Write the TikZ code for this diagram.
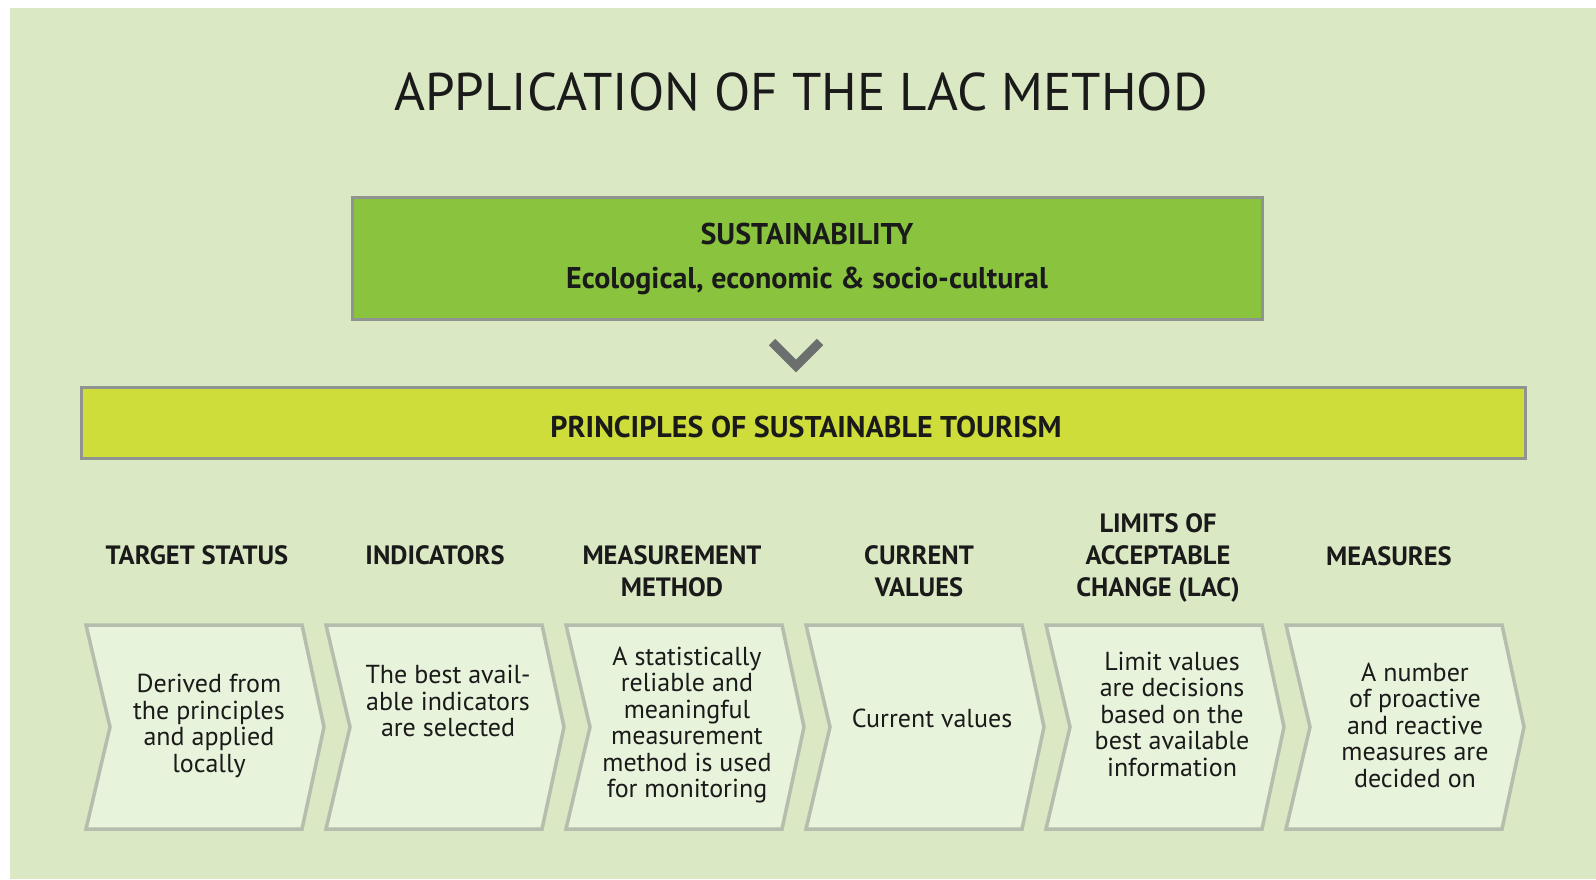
\documentclass[tikz,border=0pt]{standalone}
\usepackage{fontspec}
\setmainfont{PT Sans}

\definecolor{pagebg}{HTML}{DAE8C3}
\definecolor{sustgreen}{HTML}{8AC43F}
\definecolor{princyellow}{HTML}{CFDD3A}
\definecolor{boxedge}{HTML}{8F9490}
\definecolor{chevfill}{HTML}{E7F3DA}
\definecolor{chevedge}{HTML}{B5BDAE}
\definecolor{arrowgray}{HTML}{6B706E}
\definecolor{ink}{HTML}{1A1A1A}

\begin{document}
\begin{tikzpicture}[x=1pt,y=-1pt,
    header/.style={font=\bfseries\fontsize{26.5}{32}\selectfont, align=center, text=ink},
    body/.style={font=\fontsize{26}{26.5}\selectfont, align=center, text=ink},
    chev/.style={draw=chevedge, fill=chevfill, line width=3.5pt, line join=miter}]
    \useasboundingbox (0,0) rectangle (1596,879);
    \fill[white] (0,0) rectangle (1596,879);
    \fill[pagebg] (10,8) rectangle (1596,879);

    % title
    \node[font=\fontsize{53}{60}\selectfont, text=ink] (title) at (801,92) {APPLICATION OF THE LAC METHOD};

    % top boxes
    \draw[line width=3pt, draw=boxedge, fill=sustgreen] (352,197) rectangle (1262,319);
    \node[font=\bfseries\fontsize{30}{34}\selectfont, text=ink] (sust) at (807,234) {SUSTAINABILITY};
    \node[font=\bfseries\fontsize{30}{34}\selectfont, text=ink] (sustsub) at (807,281) {Ecological, economic \& socio-cultural};

    \draw[line width=9pt, draw=arrowgray, line join=miter] (772,342) -- (796,366) -- (820,342);

    \draw[line width=3pt, draw=boxedge, fill=princyellow] (81,387) rectangle (1525,458);
    \node[font=\bfseries\fontsize{30}{34}\selectfont, text=ink] (princ) at (806,427) {PRINCIPLES OF SUSTAINABLE TOURISM};

    % chevrons
    \foreach \i in {0,...,5}
        \draw[chev] ({86+240*\i},625) -- ++(216,0) -- ++(22,102) -- ++(-22,102) -- ++(-216,0) -- ++(24,-102) -- cycle;

    % column headers
    \node[header] (hdtarget) at (197,555) {TARGET STATUS};
    \node[header] (hdind) at (435,555) {INDICATORS};
    \node[header] (hdmeas) at (672,571) {MEASUREMENT\\METHOD};
    \node[header] (hdcur) at (919,571) {CURRENT\\VALUES};
    \node[header] (hdlac) at (1158,558) {LIMITS OF\\ACCEPTABLE\\CHANGE (LAC)};
    \node[header] (hdact) at (1389,556) {MEASURES};

    % chevron texts
    \node[body] (txtarget) at (209,726) {Derived from\\the principles\\and applied\\locally};
    \node[body] (txind) at (448,701) {The best avail-\\able indicators\\are selected};
    \node[body] (txmeas) at (687,725) {A statistically\\reliable and\\meaningful\\measurement\\method is used\\for monitoring};
    \node[body] (txcur) at (932,718) {Current values};
    \node[body] (txlac) at (1172,714) {Limit values\\are decisions\\based on the\\best available\\information};
    \node[body] (txact) at (1415,725) {A number\\of proactive\\and reactive\\measures are\\decided on};
\end{tikzpicture}
\end{document}
